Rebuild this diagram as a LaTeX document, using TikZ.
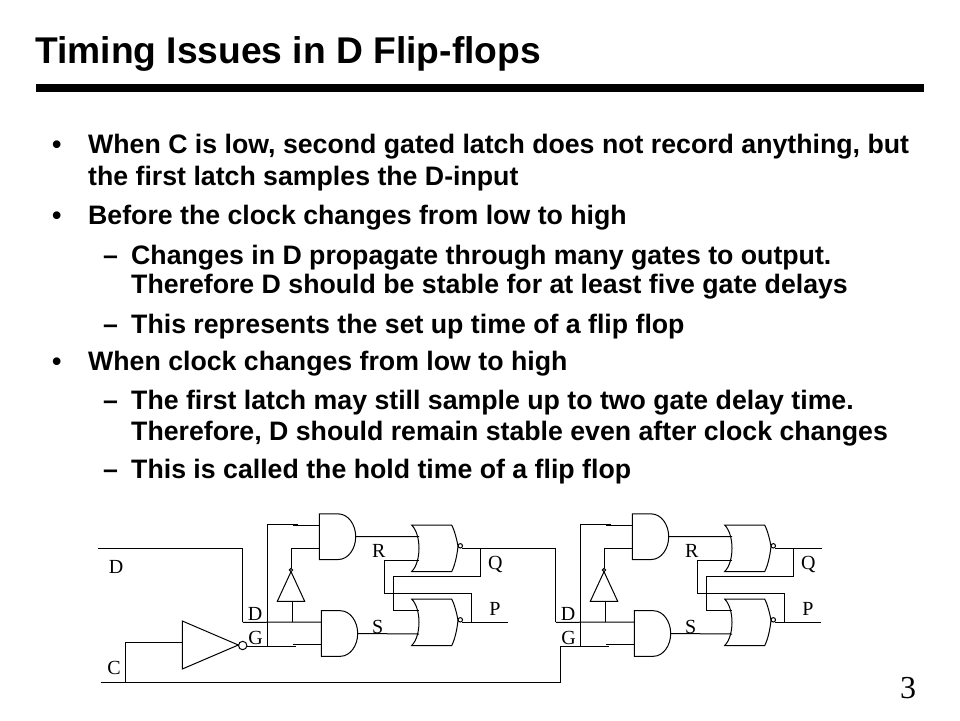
\documentclass[tikz,border=0pt]{standalone}
\usepackage{fontspec}
\setmainfont{Liberation Sans}
\newfontfamily\labelfont{Liberation Serif}
\tikzset{
	wire/.style={line width=1pt, line join=miter},
	gate/.style={line width=1pt, line join=miter},
	titletext/.style={anchor=base west, inner sep=0pt, font=\bfseries\fontsize{37.2}{37.2}\selectfont},
	bodytext/.style={anchor=base west, inner sep=0pt, font=\bfseries\fontsize{26.7}{26.7}\selectfont},
	pinlabel/.style={inner sep=0pt, font=\labelfont\fontsize{20}{20}\selectfont},
	andgate/.pic={
		\draw [gate] (0,-22.8) -- (19,-22.8) .. controls (29,-22.8) and (36.4,-12) .. (36.4,0) .. controls (36.4,12) and (29,22.8) .. (19,22.8) -- (0,22.8) -- cycle;
		\coordinate (-a) at (0,-11.4);
		\coordinate (-b) at (0,11.4);
		\coordinate (-o) at (36.4,0);
	},
	norgate/.pic={
		\draw [gate] (-7.3,-23.2) -- (32.7,-23.2) .. controls (35.5,-18) and (38,-8) .. (39,-2) .. controls (38,8) and (35.5,18) .. (32.7,23.2) -- (-7.3,23.2) .. controls (-2,18) and (0,8) .. (0,0) .. controls (0,-8) and (-2,-18) .. (-7.3,-23.2) -- cycle;
		\draw [gate] (41.3,-2.5) circle (2.2);
		\coordinate (-a) at (0,-11.7);
		\coordinate (-b) at (0,11.7);
		\coordinate (-o) at (43.2,0);
	},
	notup/.pic={
		\draw [gate] (-13.7,0) -- (13.7,0) -- (0,-29.6) -- cycle;
		\draw [gate] (0,-31.3) circle (1.7);
		\coordinate (-i) at (1.3,0);
		\coordinate (-o) at (0,-33);
	},
	notright/.pic={
		\draw [gate] (0,-24) -- (0,24) -- (56,0) -- cycle;
		\draw [gate] (60.4,0.5) circle (4.2);
		\coordinate (-i) at (0,-2.7);
	},
}
\begin{document}
\begin{tikzpicture}[x=1pt, y=-1pt]
	\useasboundingbox (0,0) rectangle (960,720);
	\node [titletext] (title) at (35,63) {Timing Issues in D Flip-flops};
	\fill (36,84) rectangle (924,92);
	\foreach \name/\ypos/\txt in {
		one/153/{When C is low, second gated latch does not record anything, but},
		two/185/{the first latch samples the D-input},
		three/224/{Before the clock changes from low to high},
		seven/370/{When clock changes from low to high}} {
		\node [bodytext] (\name) at (88,\ypos) {\txt};
	}
	\foreach \name/\ypos/\txt in {
		four/264/{Changes in D propagate through many gates to output.},
		five/293/{Therefore D should be stable for at least five gate delays},
		six/333/{This represents the set up time of a flip flop},
		eight/409/{The first latch may still sample up to two gate delay time.},
		nine/440/{Therefore, D should remain stable even after clock changes},
		ten/478/{This is called the hold time of a flip flop}} {
		\node [bodytext] (\name) at (131,\ypos) {\txt};
	}
	\foreach \name/\ypos in {bone/153, btwo/224, bthree/370} {
		\node [bodytext] (\name) at (52,\ypos) {•};
	}
	\foreach \name/\ypos in {done/264, dtwo/333, dthree/409, dfour/478} {
		\node [bodytext] (\name) at (103,\ypos) {–};
	}
	\node [pinlabel] (page) at (908,688) {\fontsize{32}{32}\selectfont 3};

	\foreach \n/\dx in {a/0, b/313} {
		\begin{scope}[xshift=\dx pt]
			\pic (\n-rand) at (319.3,536.7) {andgate};
			\pic (\n-sand) at (321.3,633.5) {andgate};
			\pic (\n-tnor) at (419,548.3) {norgate};
			\pic (\n-bnor) at (419,622.3) {norgate};
			\pic (\n-inv) at (291,601.3) {notup};
			\coordinate (\n-d) at (242.8,622.3);
			\coordinate (\n-g) at (247.3,646);
			\coordinate (\n-dj) at (292.3,622.3);
			\coordinate (\n-vtop) at (267.7,524);
			\coordinate (\n-vbot) at (267.7,646);
			\coordinate (\n-ttip) at (298,524);
			\coordinate (\n-tstub) at (293,525.3);
			\coordinate (\n-gtip) at (295.7,646);
			\coordinate (\n-gstub) at (293.3,644.9);
			\coordinate (\n-rj) at (384.7,593.3);
			\coordinate (\n-pj) at (471,622.3);
			\coordinate (\n-qj) at (480.3,548.3);
			\coordinate (\n-ql) at (393.7,576.3);
			\coordinate (\n-pend) at (508.3,622.3);
			\draw [wire] (\n-d) -- (\n-sand-a);
			\draw [wire] (\n-ttip) -- (\n-vtop) -- (\n-vbot);
			\draw [wire] (\n-g) -- (\n-gtip);
			\draw [wire] (\n-tstub) -- (\n-rand-a);
			\draw [wire] (\n-gstub) -- (\n-sand-b);
			\draw [wire] (\n-dj) -- (\n-inv-i);
			\draw [wire] (\n-inv-o) |- (\n-rand-b);
			\draw [wire] (\n-rand-o) -- (\n-tnor-a);
			\draw [wire] (\n-sand-o) -- (\n-bnor-b);
			\draw [wire] (\n-tnor-b) -| (\n-rj) -| (\n-pj);
			\draw [wire] (\n-qj) |- (\n-ql) |- (\n-bnor-a);
			\draw [wire] (\n-bnor-o) -- (\n-pend);
			\node [pinlabel] (\n-dlab) at (255,614) {D};
			\node [pinlabel] (\n-glab) at (255.7,638) {G};
			\node [pinlabel] (\n-rlab) at (378.7,550.7) {R};
			\node [pinlabel] (\n-slab) at (377.7,626.7) {S};
			\node [pinlabel] (\n-qlab) at (495.3,564) {Q};
			\node [pinlabel] (\n-plab) at (495,609.3) {P};
		\end{scope}
	}
	\pic (clkinv) at (182.3,645) {notright};
	\coordinate (dstart) at (98.3,548.3);
	\coordinate (cstart) at (100.7,682.3);
	\coordinate (cj) at (125,682.3);
	\coordinate (qend) at (821.7,548.3);
	\draw [wire] (dstart) -| (a-d);
	\draw [wire] (cstart) -| (b-g);
	\draw [wire] (cj) |- (clkinv-i);
	\draw [wire] (a-tnor-o) -| (b-d);
	\draw [wire] (b-tnor-o) -- (qend);
	\node [pinlabel] (dlab) at (116,566.7) {D};
	\node [pinlabel] (clab) at (114,668.3) {C};
\end{tikzpicture}
\end{document}
